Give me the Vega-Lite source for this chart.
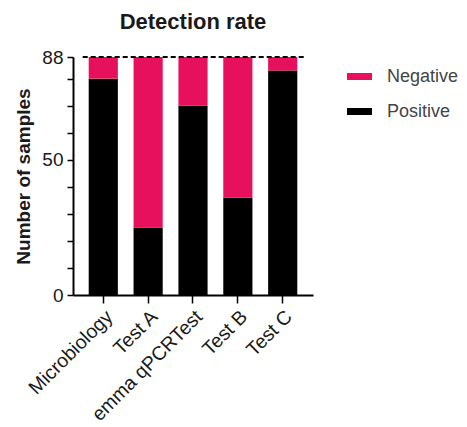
{
  "$schema": "https://vega.github.io/schema/vega-lite/v6.json",
  "autosize": {"type": "none"},
  "padding": {"left": 73, "top": 57, "right": 154, "bottom": 132},
  "width": 240,
  "height": 238,
  "background": "white",
  "title": {"text": "Detection rate", "fontSize": 22, "fontWeight": "bold", "font": "Liberation Sans", "color": "#1a1a1a", "anchor": "middle", "offset": 14},
  "config": {
    "view": {"stroke": null},
    "font": "Liberation Sans",
    "axis": {"labelOverlap": false, "labelFlush": false, "grid": false, "domainColor": "#000", "domainWidth": 2, "tickColor": "#000", "tickWidth": 1.5, "labelColor": "#1a1a1a", "titleColor": "#1a1a1a"},
    "axisY": {"labelFontSize": 19, "labelPadding": 4, "tickSize": 6, "titleFontSize": 19, "titleFontWeight": "bold", "titlePadding": 8},
    "axisX": {"labelAngle": -45, "labelFontSize": 19.5, "tickSize": 8, "labelPadding": 4, "title": null}
  },
  "datasets": {
    "counts": [
      {"test": "Microbiology", "status": "Positive", "n": 80},
      {"test": "Microbiology", "status": "Negative", "n": 8},
      {"test": "Test A", "status": "Positive", "n": 25},
      {"test": "Test A", "status": "Negative", "n": 63},
      {"test": "emma qPCRTest", "status": "Positive", "n": 70},
      {"test": "emma qPCRTest", "status": "Negative", "n": 18},
      {"test": "Test B", "status": "Positive", "n": 36},
      {"test": "Test B", "status": "Negative", "n": 52},
      {"test": "Test C", "status": "Positive", "n": 83},
      {"test": "Test C", "status": "Negative", "n": 5}
    ],
    "total": [{"from": "Microbiology", "to": "Test C", "n": 88}]
  },
  "layer": [
    {
      "data": {"name": "counts"},
      "mark": {"type": "bar"},
      "encoding": {
        "x": {
          "field": "test", "type": "nominal", "sort": null,
          "scale": {"domain": ["Microbiology", "Test A", "emma qPCRTest", "Test B", "Test C"], "paddingInner": 0.35, "paddingOuter": 0.35},
          "axis": {"title": null}
        },
        "y": {
          "field": "n", "type": "quantitative", "stack": "zero",
          "scale": {"domain": [0, 88], "nice": false},
          "axis": {
            "title": "Number of samples",
            "values": [0, 10, 20, 30, 40, 50, 60, 70, 80, 88],
            "labelExpr": "datum.value == 0 || datum.value == 50 || datum.value == 88 ? datum.label : ''"
          }
        },
        "color": {
          "field": "status", "type": "nominal",
          "scale": {"domain": ["Negative", "Positive"], "range": ["#E6105C", "#000000"]},
          "legend": {
            "title": null, "orient": "none", "legendX": 274, "legendY": 7,
            "symbolType": "M-1,-0.28H1V0.28H-1Z", "symbolSize": 625, "symbolStrokeWidth": 0,
            "labelFontSize": 18, "labelColor": "#444", "labelOffset": 15, "rowPadding": 13
          }
        },
        "order": {"field": "status", "sort": "descending"}
      }
    },
    {
      "data": {"name": "total"},
      "mark": {"type": "rule", "strokeDash": [5, 3], "strokeWidth": 2, "color": "#000", "xOffset": -6, "x2Offset": 8},
      "encoding": {
        "x": {"field": "from", "type": "nominal", "bandPosition": 0, "axis": {"title": null}},
        "x2": {"field": "to", "bandPosition": 1},
        "y": {
          "field": "n", "type": "quantitative",
          "axis": {
            "title": "Number of samples",
            "values": [0, 10, 20, 30, 40, 50, 60, 70, 80, 88],
            "labelExpr": "datum.value == 0 || datum.value == 50 || datum.value == 88 ? datum.label : ''"
          }
        }
      }
    }
  ]
}
